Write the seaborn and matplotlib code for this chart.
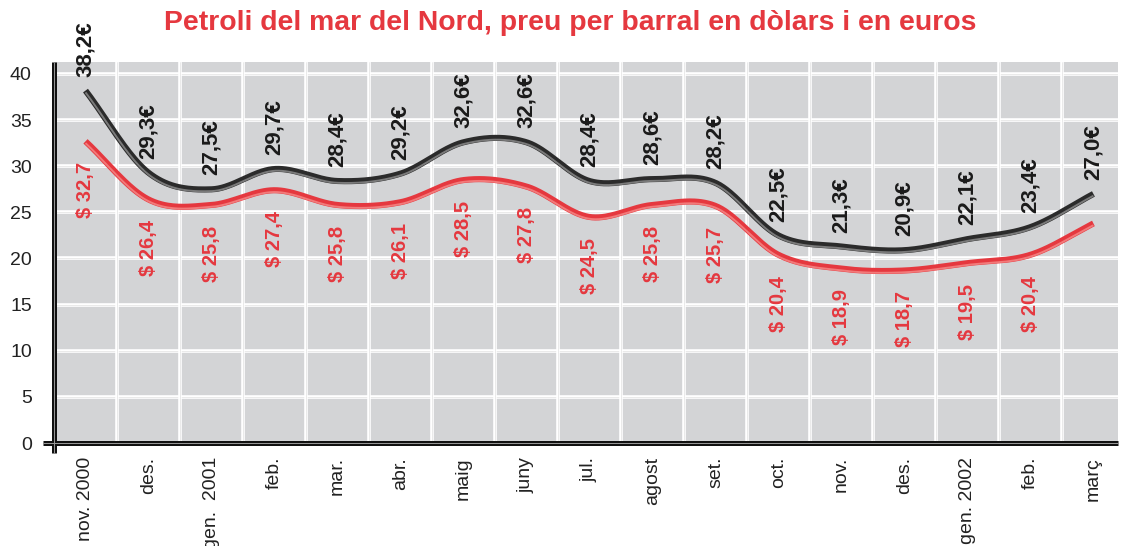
import numpy as np
import pandas as pd
import matplotlib
matplotlib.use("Agg")
import matplotlib.pyplot as plt
import matplotlib.transforms as mtransforms
import seaborn as sns

months = ["nov. 2000", "des.", "gen.  2001", "feb.", "mar.", "abr.", "maig", "juny",
          "jul.", "agost", "set.", "oct.", "nov.", "des.", "gen. 2002", "feb.", "març"]
euro = [38.2, 29.3, 27.5, 29.7, 28.4, 29.2, 32.6, 32.6, 28.4, 28.6, 28.2, 22.5,
        21.3, 20.9, 22.1, 23.4, 27.0]
dollar = [32.7, 26.4, 25.8, 27.4, 25.8, 26.1, 28.5, 27.8, 24.5, 25.8, 25.7, 20.4,
          18.9, 18.7, 19.5, 20.4, 23.8]
dollar_labels = ["32,7", "26,4", "25,8", "27,4", "25,8", "26,1", "28,5", "27,8", "24,5",
                 "25,8", "25,7", "20,4", "18,9", "18,7", "19,5", "20,4", None]
yticks = [0, 5, 10, 15, 20, 25, 30, 35, 40]
title = "Petroli del mar del Nord, preu per barral en dòlars i en euros"

RED = "#e5383f"
RED_LIGHT = "#f27a7a"
DARK = "#2b2b2b"
DARK_LIGHT = "#7a7a7a"
BG = "#d3d4d6"


def catmull_rom(x, y, xs):
    x = np.asarray(x, float); y = np.asarray(y, float)
    n = len(x); m = np.zeros(n)
    m[1:-1] = (y[2:] - y[:-2]) / (x[2:] - x[:-2])
    m[0] = y[1] - y[0]; m[-1] = y[-1] - y[-2]
    h = np.diff(x)
    idx = np.clip(np.searchsorted(x, xs) - 1, 0, n - 2)
    t = (xs - x[idx]) / h[idx]
    h00 = 2 * t**3 - 3 * t**2 + 1; h10 = t**3 - 2 * t**2 + t
    h01 = -2 * t**3 + 3 * t**2; h11 = t**3 - t**2
    return h00 * y[idx] + h10 * h[idx] * m[idx] + h01 * y[idx + 1] + h11 * h[idx] * m[idx + 1]


sns.set_style("white")
plt.rcParams["font.family"] = ["Liberation Sans", "DejaVu Sans"]

fig = plt.figure(figsize=(11.22, 5.46), dpi=100)
ax = fig.add_axes([54 / 1122, 1 - 443 / 546, (1118 - 54) / 1122, (443 - 62) / 546])
ax.set_facecolor(BG)
x = np.arange(len(months))
ax.set_xlim(-0.5, 16.39)
ax.set_ylim(0, 41.3)

# grid
for yv in yticks[1:]:
    ax.axhline(yv, color="white", lw=2.6, zorder=1)
    ax.axhline(yv, color="#e2e2e2", lw=0.5, zorder=1)
for xv in np.arange(0.5, 16.5, 1):
    ax.axvline(xv, color="white", lw=2.6, zorder=1)
    ax.axvline(xv, color="#e2e2e2", lw=0.5, zorder=1)

xs = np.linspace(0, len(months) - 1, 600)
df = pd.DataFrame({"x": np.concatenate([xs, xs]),
                   "y": np.concatenate([catmull_rom(x, euro, xs), catmull_rom(x, dollar, xs)]),
                   "serie": ["euro"] * len(xs) + ["dollar"] * len(xs)})

sns.lineplot(data=df, x="x", y="y", hue="serie", palette={"euro": DARK, "dollar": RED},
             lw=4.4, legend=False, ax=ax, zorder=3, solid_capstyle="butt")
off = mtransforms.offset_copy(ax.transData, fig=fig, x=0, y=-1.3, units="points")
for name, col in [("euro", DARK_LIGHT), ("dollar", RED_LIGHT)]:
    sub = df[df.serie == name]
    ax.plot(sub.x, sub.y, color=col, lw=1.4, transform=off, zorder=4, solid_capstyle="butt")
ax.set_xlabel("")
ax.set_ylabel("")

# value labels
for i, v in enumerate(euro):
    ax.annotate(f"{v:.1f}€".replace(".", ","), (i, v), xytext=(0, 10), textcoords="offset points",
                rotation=90, ha="center", va="bottom", fontsize=16, fontweight="bold",
                color="#1a1a1a", zorder=5, annotation_clip=False)
for i, (v, lab) in enumerate(zip(dollar, dollar_labels)):
    if lab is None:
        continue
    ax.annotate(f"$ {lab}", (i, v), xytext=(0, -15), textcoords="offset points",
                rotation=90, ha="center", va="top", fontsize=14.5, fontweight="bold",
                color=RED, zorder=5)

# ticks
ax.set_yticks(yticks)
ax.set_yticklabels([str(t) for t in yticks], fontsize=14, color="#222222")
ax.set_xticks(x)
ax.set_xticklabels(months, rotation=90, fontsize=14, color="#222222", va="top")
ax.set_xticks(np.arange(0.5, 16.5, 1), minor=True)
ax.tick_params(axis="y", which="major", length=8, width=2.6, color="#d9d9d9", pad=8)
ax.tick_params(axis="x", which="major", length=0, pad=10)
ax.tick_params(axis="x", which="minor", length=8, width=2.6, color="#d9d9d9")
for s in ax.spines.values():
    s.set_visible(False)

# double-line axes
ax.plot([-0.68, 16.39], [0, 0], color="#111111", lw=3.6, clip_on=False, zorder=6, solid_capstyle="butt")
ax.plot([-0.68, 16.39], [0, 0], color="#9a9a9a", lw=0.7, clip_on=False, zorder=7, solid_capstyle="butt")
ax.plot([-0.5, -0.5], [-1.1, 41.3], color="#111111", lw=3.6, clip_on=False, zorder=6, solid_capstyle="butt")
ax.plot([-0.5, -0.5], [-1.1, 41.3], color="#9a9a9a", lw=0.7, clip_on=False, zorder=7, solid_capstyle="butt")

fig.text(0.508, 0.958, title, ha="center", va="center", fontsize=20.4, fontweight="bold", color=RED)

fig.savefig("out.png", dpi=100)
